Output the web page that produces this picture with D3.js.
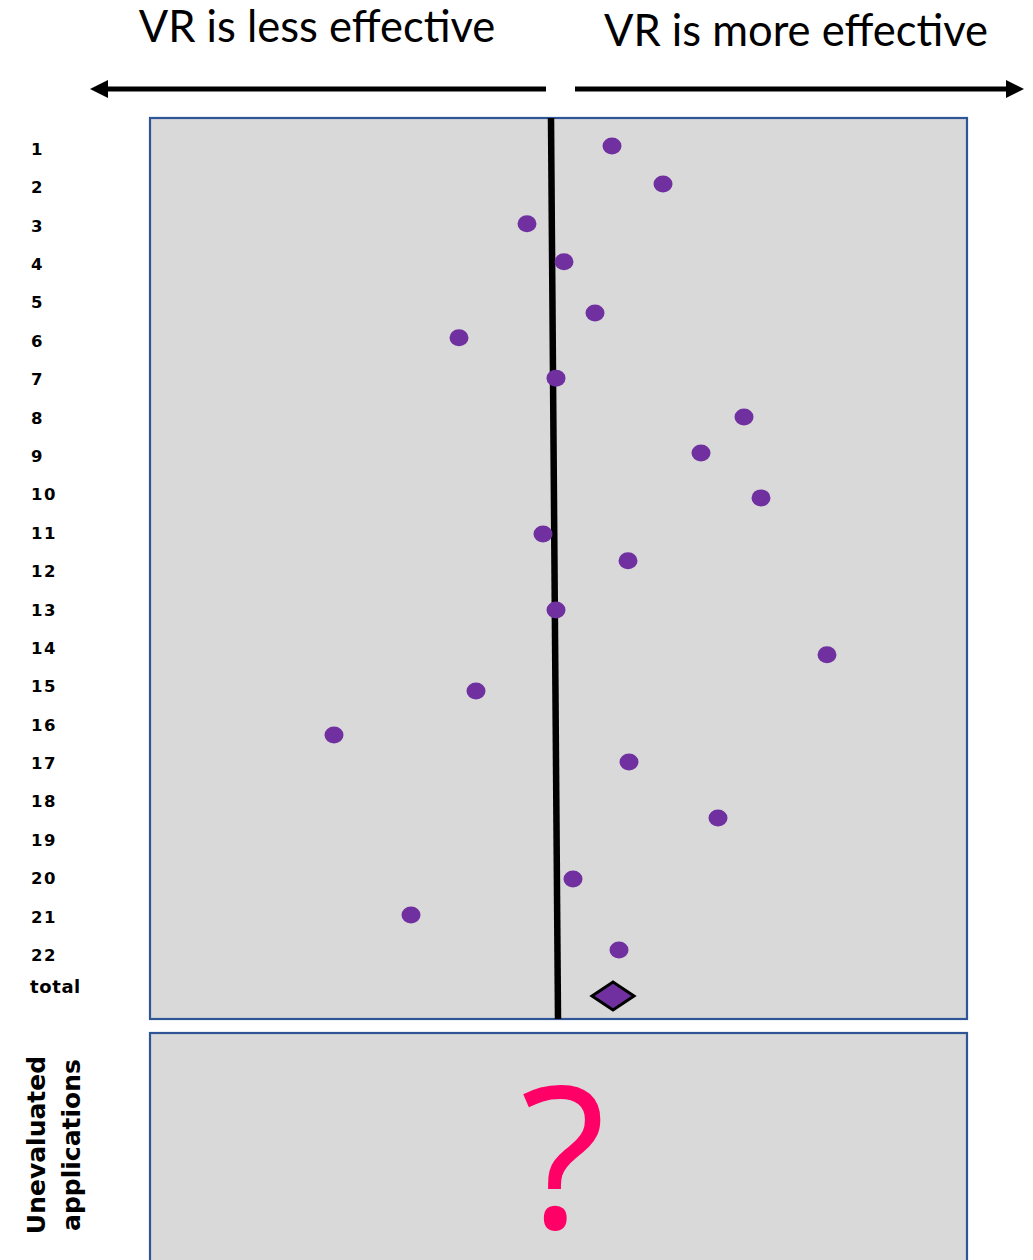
<!DOCTYPE html>
<html>
<head>
<meta charset="utf-8">
<script src="https://cdn.jsdelivr.net/npm/d3@7"></script>
<style>
  html, body { margin: 0; padding: 0; background: #ffffff; }
  svg { display: block; }
</style>
</head>
<body>
<svg id="chart" width="1033" height="1260"></svg>
<script>
// ---- data ----
const studyLabels = ["1","2","3","4","5","6","7","8","9","10","11","12","13","14","15","16","17","18","19","20","21","22"];
const totalLabel = "total";
const totalLabelRow = 22.81;
// study effect values (0 = no difference) and vertical row positions
const pointStudy = ["1","2","3","4","5","6","7","8","9","10","11","12","13","14","15","16","17","18","20","21","22"];
const pointEffect = [0.29,0.545,-0.135,0.05,0.205,-0.475,0.01,0.95,0.735,1.035,-0.055,0.37,0.01,1.365,-0.39,-1.10,0.375,0.82,0.095,-0.715,0.325];
const pointRow = [0.92,1.91,2.95,3.94,5.27,5.92,6.97,7.98,8.92,10.09,11.03,11.73,13.01,14.18,15.12,16.27,16.97,18.43,20.02,20.96,21.87];
const totalEffect = 0.295;
const totalRow = 23.07;
const nullLineEffect = [-0.015, 0.02]; // top, bottom
const leftCaption = "VR is less effective";
const rightCaption = "VR is more effective";
const lowerLabel = ["Unevaluated", "applications"];
const unknownMark = "?";

// ---- layout ----
const svg = d3.select("#chart");
const panel = {x0: 150, x1: 967, y0: 118, y1: 1019};
const panel2 = {x0: 150, x1: 967, y0: 1033, y1: 1275};

const x = d3.scaleLinear().domain([-2, 2]).range([154, 954]);
const y = d3.scaleLinear().domain([1, 22]).range([149, 955]);

// top captions
svg.append("text").attr("x", 317).attr("y", 42).attr("text-anchor", "middle")
  .attr("font-family", "Lato, 'Open Sans', sans-serif").attr("font-size", 43.5)
  .attr("fill", "#000").text(leftCaption);
svg.append("text").attr("x", 796).attr("y", 46).attr("text-anchor", "middle")
  .attr("font-family", "Lato, 'Open Sans', sans-serif").attr("font-size", 43.5)
  .attr("fill", "#000").text(rightCaption);

// arrows
const defs = svg.append("defs");
defs.append("marker").attr("id", "ah").attr("viewBox", "0 0 10 10")
  .attr("refX", 0).attr("refY", 5).attr("markerWidth", 4.2).attr("markerHeight", 3.6)
  .attr("markerUnits", "strokeWidth").attr("orient", "auto")
  .append("path").attr("d", "M0,0 L10,5 L0,10 Z").attr("fill", "#000");
svg.append("line").attr("x1", 546).attr("x2", 108).attr("y1", 89).attr("y2", 89)
  .attr("stroke", "#000").attr("stroke-width", 5).attr("marker-end", "url(#ah)");
svg.append("line").attr("x1", 575).attr("x2", 1006).attr("y1", 89).attr("y2", 89)
  .attr("stroke", "#000").attr("stroke-width", 5).attr("marker-end", "url(#ah)");

// panels
svg.append("rect").attr("x", panel.x0).attr("y", panel.y0)
  .attr("width", panel.x1 - panel.x0).attr("height", panel.y1 - panel.y0)
  .attr("fill", "#d9d9d9").attr("stroke", "#2f5597").attr("stroke-width", 2.2);
svg.append("rect").attr("x", panel2.x0).attr("y", panel2.y0)
  .attr("width", panel2.x1 - panel2.x0).attr("height", panel2.y1 - panel2.y0)
  .attr("fill", "#d9d9d9").attr("stroke", "#2f5597").attr("stroke-width", 2.2);

// null line
svg.append("line")
  .attr("x1", x(nullLineEffect[0])).attr("y1", panel.y0)
  .attr("x2", x(nullLineEffect[1])).attr("y2", panel.y1)
  .attr("stroke", "#000").attr("stroke-width", 6.5);

// study labels
const labelFont = "'DejaVu Sans', 'Noto Sans', sans-serif";
svg.append("g").selectAll("text").data(studyLabels).join("text")
  .attr("x", 31).attr("y", (d, i) => y(i + 1)).attr("dy", "0.36em")
  .attr("font-family", labelFont).attr("font-weight", "bold").attr("font-size", 16.5)
  .attr("letter-spacing", 1.5).attr("fill", "#000").text(d => d);
svg.append("text").attr("x", 30).attr("y", y(totalLabelRow)).attr("dy", "0.36em")
  .attr("font-family", labelFont).attr("font-weight", "bold").attr("font-size", 18)
  .attr("letter-spacing", 0.6).attr("fill", "#000").text(totalLabel);

// points
svg.append("g").selectAll("ellipse").data(pointEffect).join("ellipse")
  .attr("cx", d => x(d)).attr("cy", (d, i) => y(pointRow[i]))
  .attr("rx", 9.5).attr("ry", 8.5).attr("fill", "#7030a0");

// total diamond
const dx = x(totalEffect), dy = y(totalRow);
svg.append("path")
  .attr("d", `M${dx - 21},${dy} L${dx},${dy - 14} L${dx + 21},${dy} L${dx},${dy + 14} Z`)
  .attr("fill", "#7030a0").attr("stroke", "#000").attr("stroke-width", 3).attr("stroke-linejoin", "miter");

// lower panel label
const lg = svg.append("g").attr("transform", "translate(0,1145) rotate(-90)");
lg.selectAll("text").data(lowerLabel).join("text")
  .attr("x", 0).attr("y", (d, i) => 45 + i * 35).attr("text-anchor", "middle")
  .attr("font-family", labelFont).attr("font-weight", "bold").attr("font-size", 25)
  .attr("fill", "#000").text(d => d);

// question mark
svg.append("text").attr("x", 563).attr("y", 1228).attr("text-anchor", "middle")
  .attr("font-family", "'Open Sans', Lato, sans-serif").attr("font-weight", 500).attr("font-size", 198)
  .attr("fill", "#ff0066").text(unknownMark);
</script>
</body>
</html>
